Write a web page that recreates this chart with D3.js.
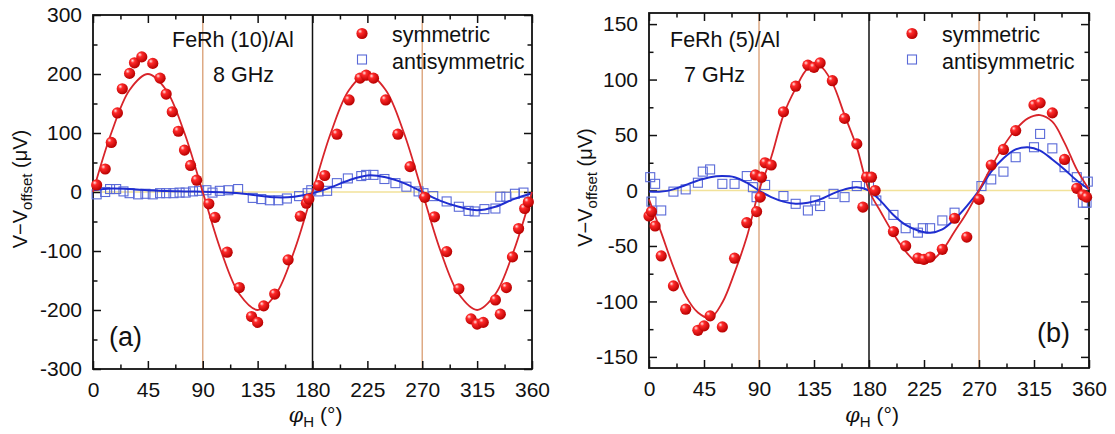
<!DOCTYPE html>
<html><head><meta charset="utf-8">
<script src="https://cdn.jsdelivr.net/npm/d3@7"></script>
<style>
body{margin:0;background:#fff;}
text{font-family:"Liberation Sans",Arial,sans-serif;fill:#111;}
</style></head>
<body><svg id="c" width="1115" height="434"></svg>
<script>
// ---------- DATA ----------
const xTickLabels = ["0","45","90","135","180","225","270","315","360"];
const yTickLabelsA = ["-300","-200","-100","0","100","200","300"];
const yTickLabelsB = ["-150","-100","-50","0","50","100","150"];

// Panel (a) FeRh(10)/Al, 8 GHz
const phiA_sym = [3,10,15,20,24,30,34,40,49,55,60,65,70,75,80,85,95,100,110,120,130,135,140,149,160,170,175,177,185,190,200,210,219,224,230,240,250,260,272,280,290,300,310,315,320,330,334,339,344,349,354,357];
const vA_sym   = [12,39,84,134,175,201,219,229,218,193,166,136,103,71,45,20,-20,-43,-102,-162,-211,-221,-193,-173,-115,-41,-19,-12,11,28,98,156,193,198,193,156,98,43,-9,-42,-101,-164,-215,-224,-221,-183,-207,-162,-110,-62,-28,-17];
const phiA_anti = [3,10,14,19,25,30,37,43,49,55,60,66,71,76,82,87,93,98,104,111,119,131,138,145,152,159,169,176,179,185,192,200,209,220,224,230,239,248,257,267,271,279,290,300,308,313,321,330,334,339,346,353];
const vA_anti   = [-4,0,5,5,1,-2,-4,-3,-4,-2,-2,-2,-1,-1,1,2,3,-1,2,3,5,-10,-12,-14,-14,-11,-7,-2,3,1,2,15,23,27,29,29,22,15,9,1,-2,-7,-16,-25,-32,-33,-29,-28,-8,-8,-3,-1];
const fitPhiA   = [0,15,30,45,60,75,90,105,120,135,150,165,180,195,210,225,240,255,270,285,300,315,330,345,360];
const fitA_sym  = [0,100,173,200,173,100,0,-100,-173,-200,-173,-100,0,100,173,200,173,100,0,-100,-173,-200,-173,-100,0];
const fitA_anti = [3,6,5,3,1.5,1,0.5,-0.5,-2,-6,-9,-8,-2,8,20,28,25,15,0,-15,-25,-31,-25,-12,-2];

// Panel (b) FeRh(5)/Al, 7 GHz
const phiB_sym = [0,2,5,10,20,30,40,45,50,60,70,80,88,87,92,91,95,100,110,120,130,135,140,150,160,170,175,178,182,185,200,210,220,225,230,240,250,260,270,280,290,300,315,320,330,340,350,355,358];
const vB_sym   = [-23,-19,-32,-59,-86,-107,-126,-122,-113,-123,-61,-29,-19,14,12,-6,25,23,71,94,113,111,115,99,65,42,-15,12,12,0,-37,-50,-61,-62,-60,-53,-25,-42,-8,23,37,54,77,79,70,28,2,-4,-6];
const phiB_anti = [1,2,5,10,20,30,40,44,50,60,70,80,85,88,95,110,120,130,136,140,151,160,170,180,186,200,210,220,224,230,240,250,272,280,290,300,315,320,330,340,350,355,358,359];
const vB_anti   = [12,-10,6,-18,-1,1,7,17,19,6,6,13,3,-6,5,-5,-12,-18,-9,-14,-3,-6,4,5,-9,-22,-34,-38,-34,-34,-27,-20,4,10,17,30,39,51,38,21,12,-11,-11,8];
const fitPhiB   = [0,10,20,30,40,50,60,70,80,90,100,110,120,130,140,150,160,170,180,190,200,210,220,230,240,250,260,270,280,290,300,310,320,330,340,350,360];
const fitB_sym  = [-8,-38,-69,-95,-110,-115,-101,-74,-42,0,30,68,92,110,112,97,68,39,0,-20,-39,-55,-65,-64,-54,-37,-20,0,21,40,55,65,68,62,43,19,1];
const fitB_anti = [-1,-1,1,5,9,12,13,12,7,0,-6,-10,-12,-11,-8,-3,1,3,0,-10,-22,-31,-36,-38,-35,-26,-14,0,17,29,37,39,36,28,19,9,1];

// ---------- DRAW ----------
const svg = d3.select("#c");
const defs = svg.append("defs");
const grad = defs.append("radialGradient").attr("id","ball").attr("cx","38%").attr("cy","35%").attr("r","65%").attr("fx","32%").attr("fy","30%");
grad.append("stop").attr("offset","0%").attr("stop-color","#ffe6e6");
grad.append("stop").attr("offset","30%").attr("stop-color","#ff2a2a");
grad.append("stop").attr("offset","100%").attr("stop-color","#b80000");

const panels = [
  {x0:93,x1:532,y0:15,y1:369,ydom:[-300,300],ymaj:d3.range(-300,301,100),ymin:d3.range(-250,300,100),ylab:yTickLabelsA,
   ps:phiA_sym,vs:vA_sym,pa:phiA_anti,va:vA_anti,fp:fitPhiA,fs:fitA_sym,fa:fitA_anti,
   t1:"FeRh (10)/Al",t1x:172,t2:"8 GHz",t2x:213,tag:"(a)",tagx:109,tagy:346,legx:362,ylx:27},
  {x0:649,x1:1089,y0:13,y1:368,ydom:[-160,160],ymaj:d3.range(-150,151,50),ymin:d3.range(-125,150,50),ylab:yTickLabelsB,
   ps:phiB_sym,vs:vB_sym,pa:phiB_anti,va:vB_anti,fp:fitPhiB,fs:fitB_sym,fa:fitB_anti,
   t1:"FeRh (5)/Al",t1x:670,t2:"7 GHz",t2x:684,tag:"(b)",tagx:1037,tagy:342,legx:912,ylx:592}
];

panels.forEach(p=>{
  const x = d3.scaleLinear().domain([0,360]).range([p.x0,p.x1]);
  const y = d3.scaleLinear().domain(p.ydom).range([p.y1,p.y0]);
  const g = svg.append("g");
  const xmaj = d3.range(0,361,45), xmin = d3.range(22.5,360,45);

  // reference lines
  g.append("line").attr("x1",p.x0).attr("x2",p.x1).attr("y1",y(0)).attr("y2",y(0)).attr("stroke","#f2e29a").attr("stroke-width",1.6);
  [90,270].forEach(v=>g.append("line").attr("x1",x(v)).attr("x2",x(v)).attr("y1",p.y0).attr("y2",p.y1).attr("stroke","#deaa84").attr("stroke-width",1.5));
  g.append("line").attr("x1",x(180)).attr("x2",x(180)).attr("y1",p.y0).attr("y2",p.y1).attr("stroke","#111").attr("stroke-width",1.5);

  // axes
  const ax = (sel, axis)=>{ sel.call(axis); sel.select(".domain").remove(); sel.selectAll("line").attr("stroke","#111").attr("stroke-width",1.5); };
  ax(g.append("g").attr("transform",`translate(0,${p.y1})`), d3.axisBottom(x).tickValues(xmaj).tickSize(-8).tickPadding(13).tickFormat((d,i)=>xTickLabels[i]));
  ax(g.append("g").attr("transform",`translate(0,${p.y1})`), d3.axisBottom(x).tickValues(xmin).tickSize(-4.5).tickFormat(""));
  ax(g.append("g").attr("transform",`translate(0,${p.y0})`), d3.axisTop(x).tickValues(xmaj).tickSize(-8).tickFormat(""));
  ax(g.append("g").attr("transform",`translate(0,${p.y0})`), d3.axisTop(x).tickValues(xmin).tickSize(-4.5).tickFormat(""));
  ax(g.append("g").attr("transform",`translate(${p.x0},0)`), d3.axisLeft(y).tickValues(p.ymaj).tickSize(-8).tickPadding(11).tickFormat((d,i)=>p.ylab[i]));
  ax(g.append("g").attr("transform",`translate(${p.x0},0)`), d3.axisLeft(y).tickValues(p.ymin).tickSize(-4.5).tickFormat(""));
  ax(g.append("g").attr("transform",`translate(${p.x1},0)`), d3.axisRight(y).tickValues(p.ymaj).tickSize(-8).tickFormat(""));
  ax(g.append("g").attr("transform",`translate(${p.x1},0)`), d3.axisRight(y).tickValues(p.ymin).tickSize(-4.5).tickFormat(""));
  g.selectAll(".tick text").attr("font-size",21).attr("font-family","Liberation Sans, Arial").attr("fill","#111");

  g.append("rect").attr("x",p.x0).attr("y",p.y0).attr("width",p.x1-p.x0).attr("height",p.y1-p.y0)
    .attr("fill","none").attr("stroke","#111").attr("stroke-width",1.8);

  // antisymmetric squares
  g.selectAll(".sq").data(p.pa.map((d,i)=>[d,p.va[i]])).enter().append("rect")
    .attr("x",d=>x(d[0])-4.5).attr("y",d=>y(d[1])-4.5).attr("width",9).attr("height",9)
    .attr("fill","none").attr("stroke","#5a6ad8").attr("stroke-width",1.1);

  const line = d3.line().x((d,i)=>x(p.fp[i])).y(d=>y(d)).curve(d3.curveCatmullRom.alpha(0.5));
  g.append("path").attr("d",line(p.fa)).attr("fill","none").attr("stroke","#1f2ed0").attr("stroke-width",2);
  g.append("path").attr("d",line(p.fs)).attr("fill","none").attr("stroke","#d8242a").attr("stroke-width",1.8);

  g.selectAll(".ball").data(p.ps.map((d,i)=>[d,p.vs[i]])).enter().append("circle")
    .attr("cx",d=>x(d[0])).attr("cy",d=>y(d[1])).attr("r",5.6).attr("fill","url(#ball)");

  // texts
  g.append("text").attr("x",p.t1x).attr("y",47).attr("font-size",21.5).text(p.t1);
  g.append("text").attr("x",p.t2x).attr("y",82).attr("font-size",21.5).text(p.t2);
  g.append("text").attr("x",p.tagx).attr("y",p.tagy).attr("font-size",27).text(p.tag);

  // legend
  g.append("circle").attr("cx",p.legx).attr("cy",33.5).attr("r",5.6).attr("fill","url(#ball)");
  g.append("text").attr("x",p.legx+30).attr("y",41.5).attr("font-size",21.5).text("symmetric");
  g.append("rect").attr("x",p.legx-4.5).attr("y",59.5-4.5).attr("width",9).attr("height",9).attr("fill","none").attr("stroke","#5a6ad8").attr("stroke-width",1.1);
  g.append("text").attr("x",p.legx+30).attr("y",68.5).attr("font-size",21.5).text("antisymmetric");

  // axis titles
  const yl = g.append("text").attr("transform",`translate(${p.ylx},${(p.y0+p.y1)/2 - 3}) rotate(-90)`).attr("text-anchor","middle").attr("font-size",20);
  yl.append("tspan").text("V\u2212V");
  yl.append("tspan").attr("font-size",15).attr("dy",5).text("offset");
  yl.append("tspan").attr("dy",-5).text(" (\u03bcV)");

  const xl = g.append("text").attr("x",(p.x0+p.x1)/2+3).attr("y",422).attr("text-anchor","middle").attr("font-size",21);
  xl.append("tspan").attr("font-style","italic").attr("font-family","DejaVu Serif, serif").text("\u03c6");
  xl.append("tspan").attr("font-size",15).attr("dy",5).text("H");
  xl.append("tspan").attr("dy",-5).text(" (\u00b0)");
});
</script></body></html>
